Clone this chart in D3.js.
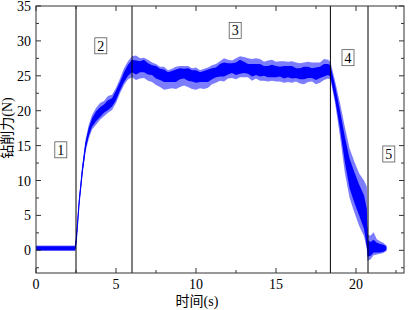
<!DOCTYPE html>
<html>
<head>
<meta charset="utf-8">
<script src="https://cdn.jsdelivr.net/npm/d3@7"></script>
<style>
  body { margin: 0; background: #fff; }
  svg text { font-family: "Liberation Serif", "Noto Sans CJK SC", serif; }
</style>
</head>
<body>
<svg id="chart" width="408" height="310"></svg>
<script>
// Data (time in s, force in N)
const times = [0, 0.5, 1, 1.5, 2, 2.45, 2.52, 2.7, 2.9, 3.1, 3.3, 3.5, 3.75, 4, 4.25, 4.5, 4.75, 5, 5.25, 5.5, 5.75,
  6, 6.25, 6.5, 6.75, 7, 7.25, 7.5, 7.75, 8, 8.25, 8.5, 8.75, 9, 9.25, 9.5, 9.75, 10, 10.25, 10.5, 10.75,
  11, 11.25, 11.5, 11.75, 12, 12.25, 12.5, 12.75, 13, 13.25, 13.5, 13.75, 14, 14.25, 14.5, 14.75, 15, 15.25,
  15.5, 15.75, 16, 16.25, 16.5, 16.75, 17, 17.25, 17.5, 17.75, 18, 18.25, 18.4, 18.7, 19, 19.3, 19.6, 19.9,
  20.2, 20.5, 20.68, 20.72, 20.9, 21.1, 21.3, 21.5, 21.7, 21.9];
const force = [0.3, 0.3, 0.3, 0.3, 0.3, 0.3, 1.5, 7, 11.5, 15, 17, 18.3, 19.2, 19.8, 20.3, 20.8, 21.2, 22.2, 23.5, 24.8, 25.8,
  26.4, 26.2, 26.3, 26.4, 26.0, 25.8, 25.5, 25.2, 25.0, 24.8, 24.9, 25.0, 25.3, 25.3, 25.2, 25.0, 24.9, 24.8, 24.9, 25.0,
  25.3, 25.5, 25.8, 25.9, 26.0, 26.1, 26.0, 26.3, 26.2, 26.0, 25.8, 25.9, 25.8, 25.7, 25.6, 25.7, 25.6, 25.6,
  25.5, 25.6, 25.5, 25.4, 25.3, 25.4, 25.5, 25.4, 25.3, 25.5, 25.8, 25.9, 25.7, 22.5, 18.7, 14.5, 11, 9,
  7.2, 5.5, 3.2, 0.3, 0.2, 0.6, 0.4, 0.3, 0.3, 0.3];
// half-width of the dense (dark) noise band
const darkHalf = [0.3, 0.3, 0.3, 0.3, 0.3, 0.3, 0.4, 0.4, 0.5, 0.5, 0.6, 0.6, 0.7, 0.7, 0.6, 0.7, 0.6, 0.7, 0.6, 0.7, 0.8,
  0.9, 1.0, 0.8, 0.9, 0.8, 0.7, 0.9, 0.8, 0.9, 0.7, 0.8, 0.9, 0.8, 0.7, 0.9, 0.8, 0.9, 0.7, 0.8, 0.9,
  0.8, 0.7, 0.9, 1.0, 0.8, 0.7, 0.9, 1.0, 0.8, 0.7, 0.9, 0.8, 0.9, 0.7, 0.8, 0.9, 0.8, 0.7,
  0.9, 0.8, 0.9, 0.7, 0.8, 0.9, 0.8, 0.7, 0.9, 0.8, 0.9, 0.8, 0.8, 1.0, 1.3, 1.8, 2.1, 2.2,
  2.2, 2.4, 2.7, 1.2, 1.0, 0.9, 0.7, 0.6, 0.5, 0.3];
// extra spread of the sparse (light) band above and below
const lightUp = [0.1, 0.1, 0.1, 0.1, 0.1, 0.1, 0.2, 0.3, 0.3, 0.4, 0.4, 0.5, 0.5, 0.6, 0.5, 0.6, 0.5, 0.4, 0.5, 0.6, 0.5,
  0.5, 0.7, 0.4, 0.3, 0.5, 0.4, 0.3, 0.3, 0.4, 0.3, 0.3, 0.4, 0.3, 0.4, 0.3, 0.3, 0.4, 0.3, 0.3, 0.3,
  0.4, 0.5, 0.4, 0.6, 0.5, 0.4, 0.6, 0.5, 0.7, 0.8, 0.7, 0.8, 0.7, 0.6, 0.8, 0.7, 0.6, 0.8,
  0.7, 0.6, 0.7, 0.8, 0.7, 0.6, 0.7, 0.8, 0.7, 0.6, 0.7, 0.6, 0.5, 0.7, 1.1, 1.4, 1.5, 1.5,
  1.6, 2.1, 3.2, 0.8, 0.9, 1.1, 0.5, 0.4, 0.3, 0.1];
const lightDown = [0.1, 0.1, 0.1, 0.1, 0.1, 0.1, 0.2, 0.2, 0.3, 0.3, 0.4, 0.4, 0.5, 0.4, 0.5, 0.4, 0.5, 0.4, 0.4, 0.4, 0.5,
  0.7, 0.8, 0.9, 0.8, 0.9, 1.0, 0.9, 1.0, 1.1, 1.0, 0.9, 1.0, 1.1, 1.0, 0.9, 1.1, 1.0, 0.9, 1.0, 0.8,
  0.7, 0.8, 0.6, 0.7, 0.6, 0.7, 0.6, 0.5, 0.6, 0.5, 0.6, 0.5, 0.6, 0.7, 0.6, 0.5, 0.6, 0.7,
  0.6, 0.7, 0.6, 0.5, 0.6, 0.7, 0.6, 0.5, 0.6, 0.7, 0.5, 0.5, 0.4, 0.5, 1.1, 1.5, 1.4, 1.4,
  1.5, 1.1, 0.4, 0.6, 0.5, 0.4, 0.3, 0.2, 0.2, 0.1];

const stageBounds = [2.5, 6.0, 18.4, 20.75];
const stageLabels = ["1", "2", "3", "4", "5"];
const stageLabelX = [1.55, 4.05, 12.45, 19.5, 22.05];
const stageLabelY = [14.4, 29.3, 31.5, 27.6, 13.8];

const xTicks = [0, 5, 10, 15, 20];
const yTicks = [0, 5, 10, 15, 20, 25, 30, 35];

const svg = d3.select("#chart");
const mLeft = 36, mRight = 404, mTop = 6, mBottom = 273;

const x = d3.scaleLinear().domain([0, 23]).range([mLeft, mRight]);
const y = d3.scaleLinear().domain([-3.25, 35]).range([mBottom, mTop]);

const pts = times.map((t, i) => ({
  t: t, v: force[i], d: darkHalf[i], up: lightUp[i], dn: lightDown[i]
}));

// light band (sparse excursions)
svg.append("path")
  .datum(pts)
  .attr("fill", "#7c7cff")
  .attr("d", d3.area()
    .x(d => x(d.t))
    .y0(d => y(d.v - d.d - d.dn))
    .y1(d => y(d.v + d.d + d.up)));

// dark band (dense core)
svg.append("path")
  .datum(pts)
  .attr("fill", "#0000ff")
  .attr("d", d3.area()
    .x(d => x(d.t))
    .y0(d => y(d.v - d.d))
    .y1(d => y(d.v + d.d)));

svg.append("path")
  .datum(pts)
  .attr("fill", "none")
  .attr("stroke", "#0000ff")
  .attr("stroke-width", 1.2)
  .attr("d", d3.line().x(d => x(d.t)).y(d => y(d.v)));

// stage divider lines
svg.selectAll(".divider")
  .data(stageBounds)
  .join("line")
  .attr("x1", d => x(d)).attr("x2", d => x(d))
  .attr("y1", mTop).attr("y2", mBottom)
  .attr("stroke", "#000")
  .attr("stroke-width", 1);

// stage labels in boxes
const lab = svg.selectAll(".stage")
  .data(stageLabels)
  .join("g")
  .attr("transform", (d, i) => `translate(${x(stageLabelX[i])},${y(stageLabelY[i])})`);
lab.append("rect")
  .attr("x", -6).attr("y", -8).attr("width", 12).attr("height", 16)
  .attr("fill", "#fff").attr("stroke", "#555").attr("stroke-width", 0.8);
lab.append("text")
  .attr("text-anchor", "middle").attr("y", 5)
  .attr("font-size", 14)
  .text(d => d);

// frame
svg.append("rect")
  .attr("x", mLeft).attr("y", mTop)
  .attr("width", mRight - mLeft).attr("height", mBottom - mTop)
  .attr("fill", "none").attr("stroke", "#333").attr("stroke-width", 1);

// ticks on all four sides, pointing inward
const xMinor = d3.range(0, 23.01, 2.5);
const yMinor = d3.range(-2.5, 35.01, 2.5);
[[mBottom, -1], [mTop, 1]].forEach(([yy, dir]) => {
  svg.selectAll(null).data(xMinor).join("line")
    .attr("x1", d => x(d)).attr("x2", d => x(d))
    .attr("y1", yy).attr("y2", d => yy + dir * (d % 5 === 0 ? 5 : 3))
    .attr("stroke", "#333");
});
[[mLeft, 1], [mRight, -1]].forEach(([xx, dir]) => {
  svg.selectAll(null).data(yMinor).join("line")
    .attr("y1", d => y(d)).attr("y2", d => y(d))
    .attr("x1", xx).attr("x2", d => xx + dir * (Math.abs(d % 5) === 0 ? 5 : 3))
    .attr("stroke", "#333");
});

// tick labels
svg.selectAll(".xl").data(xTicks).join("text")
  .attr("x", d => x(d)).attr("y", 289)
  .attr("text-anchor", "middle").attr("font-size", 14)
  .text(d => d);
svg.selectAll(".yl").data(yTicks).join("text")
  .attr("x", 31).attr("y", d => y(d) + 5)
  .attr("text-anchor", "end").attr("font-size", 14)
  .text(d => d);

// axis titles
svg.append("text")
  .attr("x", 197).attr("y", 306)
  .attr("text-anchor", "middle").attr("font-size", 14)
  .text("时间(s)");
svg.append("text")
  .attr("transform", "translate(12,128) rotate(-90)")
  .attr("text-anchor", "middle").attr("font-size", 14)
  .text("钻削力(N)");
</script>
</body>
</html>
